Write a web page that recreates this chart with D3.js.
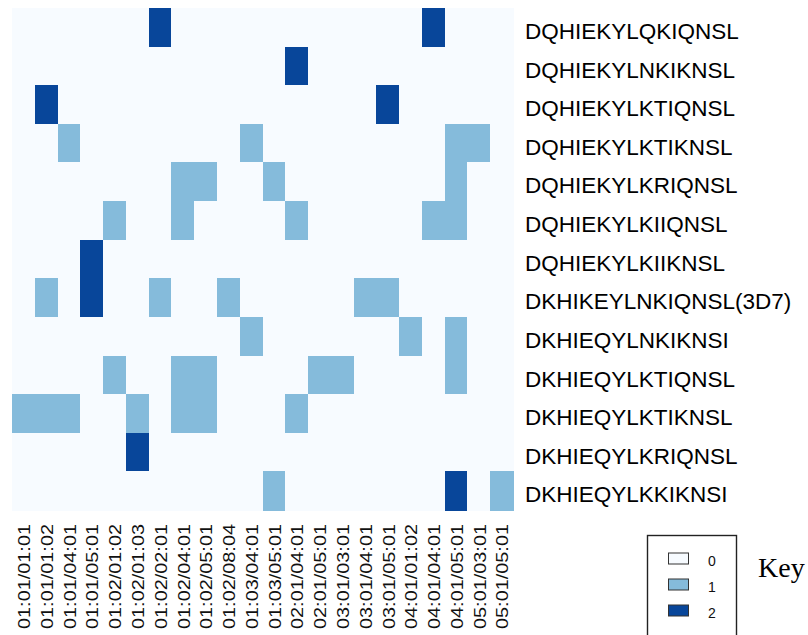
<!DOCTYPE html>
<html>
<head>
<meta charset="utf-8">
<script src="https://cdn.jsdelivr.net/npm/d3@7"></script>
<style>
  html, body { margin: 0; padding: 0; background: #ffffff; }
  svg { display: block; }
</style>
</head>
<body>
<svg id="chart" width="808" height="635"></svg>
<script>
// Epitope variants (rows) and allele combinations (columns)
const rowLabels = [
  "DQHIEKYLQKIQNSL",
  "DQHIEKYLNKIKNSL",
  "DQHIEKYLKTIQNSL",
  "DQHIEKYLKTIKNSL",
  "DQHIEKYLKRIQNSL",
  "DQHIEKYLKIIQNSL",
  "DQHIEKYLKIIKNSL",
  "DKHIKEYLNKIQNSL(3D7)",
  "DKHIEQYLNKIKNSI",
  "DKHIEQYLKTIQNSL",
  "DKHIEQYLKTIKNSL",
  "DKHIEQYLKRIQNSL",
  "DKHIEQYLKKIKNSI"
];

const colLabels = [
  "01:01/01:01", "01:01/01:02", "01:01/04:01", "01:01/05:01",
  "01:02/01:02", "01:02/01:03", "01:02/02:01", "01:02/04:01",
  "01:02/05:01", "01:02/08:04", "01:03/04:01", "01:03/05:01",
  "02:01/04:01", "02:01/05:01", "03:01/03:01", "03:01/04:01",
  "03:01/05:01", "04:01/01:02", "04:01/04:01", "04:01/05:01",
  "05:01/03:01", "05:01/05:01"
];

// Counts per variant (row) and allele combination (column)
const counts = [
  [0,0,0,0,0,0,2,0,0,0,0,0,0,0,0,0,0,0,2,0,0,0],
  [0,0,0,0,0,0,0,0,0,0,0,0,2,0,0,0,0,0,0,0,0,0],
  [0,2,0,0,0,0,0,0,0,0,0,0,0,0,0,0,2,0,0,0,0,0],
  [0,0,1,0,0,0,0,0,0,0,1,0,0,0,0,0,0,0,0,1,1,0],
  [0,0,0,0,0,0,0,1,1,0,0,1,0,0,0,0,0,0,0,1,0,0],
  [0,0,0,0,1,0,0,1,0,0,0,0,1,0,0,0,0,0,1,1,0,0],
  [0,0,0,2,0,0,0,0,0,0,0,0,0,0,0,0,0,0,0,0,0,0],
  [0,1,0,2,0,0,1,0,0,1,0,0,0,0,0,1,1,0,0,0,0,0],
  [0,0,0,0,0,0,0,0,0,0,1,0,0,0,0,0,0,1,0,1,0,0],
  [0,0,0,0,1,0,0,1,1,0,0,0,0,1,1,0,0,0,0,1,0,0],
  [1,1,1,0,0,1,0,1,1,0,0,0,1,0,0,0,0,0,0,0,0,0],
  [0,0,0,0,0,2,0,0,0,0,0,0,0,0,0,0,0,0,0,0,0,0],
  [0,0,0,0,0,0,0,0,0,0,0,1,0,0,0,0,0,0,0,2,0,1]
];

const keyLevels = [0, 1, 2];
const keyColors = ["#f7fbff", "#85bbdb", "#08469a"];

const svg = d3.select("#chart");

const plot = { left: 12, right: 513, top: 8, bottom: 510 };

const x = d3.scaleBand()
  .domain(colLabels)
  .range([plot.left, plot.right])
  .paddingInner(0).paddingOuter(0);

const y = d3.scaleBand()
  .domain(rowLabels)
  .range([plot.top, plot.bottom])
  .paddingInner(0).paddingOuter(0);

const color = d3.scaleOrdinal().domain(keyLevels).range(keyColors);

// flatten matrix into cells
const cells = [];
counts.forEach((row, i) => row.forEach((v, j) => {
  cells.push({ row: rowLabels[i], col: colLabels[j], value: v });
}));

// background tiles (value 0) first, then coloured tiles on top
svg.append("g")
  .attr("shape-rendering", "crispEdges")
  .selectAll("rect")
  .data(cells)
  .join("rect")
  .attr("x", d => x(d.col))
  .attr("y", d => y(d.row))
  .attr("width", x.bandwidth() + 0.5)
  .attr("height", y.bandwidth() + 0.5)
  .attr("fill", d => color(d.value));

// row labels on the right
const rowAxis = d3.axisRight(y).tickSize(0).tickPadding(12);
const gRow = svg.append("g")
  .attr("transform", `translate(${plot.right},0)`)
  .call(rowAxis);
gRow.select(".domain").remove();
gRow.selectAll("text")
  .attr("font-family", "Liberation Sans, Arial, sans-serif")
  .attr("font-size", 22.5)
  .attr("fill", "#000")
  .attr("dy", "0.52em");

// column labels, rotated, below the grid
const gCol = svg.append("g");
gCol.selectAll("text")
  .data(colLabels)
  .join("text")
  .attr("transform", d => `translate(${x(d) + x.bandwidth() / 2 + 1},524) rotate(-90)`)
  .attr("text-anchor", "end")
  .attr("dy", "0.36em")
  .attr("font-family", "Liberation Sans, Arial, sans-serif")
  .attr("font-size", 16)
  .attr("fill", "#111")
  .attr("textLength", 105)
  .attr("lengthAdjust", "spacingAndGlyphs")
  .text(d => d);

// key
const key = svg.append("g");
key.append("rect")
  .attr("x", 647.5).attr("y", 535.5)
  .attr("width", 89).attr("height", 110)
  .attr("fill", "none")
  .attr("stroke", "#222")
  .attr("stroke-width", 1.4);

const keyY = d3.scalePoint().domain(keyLevels).range([558.5, 610.5]);

key.selectAll("rect.sw")
  .data(keyLevels)
  .join("rect")
  .attr("class", "sw")
  .attr("x", 668.5)
  .attr("y", d => keyY(d) - 5.5)
  .attr("width", 20)
  .attr("height", 11)
  .attr("fill", d => color(d))
  .attr("stroke", "#333")
  .attr("stroke-width", 1);

key.selectAll("text.lab")
  .data(keyLevels)
  .join("text")
  .attr("class", "lab")
  .attr("x", 708)
  .attr("y", d => keyY(d) + 2.5)
  .attr("dy", "0.36em")
  .attr("font-family", "Liberation Sans, Arial, sans-serif")
  .attr("font-size", 14)
  .attr("fill", "#111")
  .text(d => d);

svg.append("text")
  .attr("x", 758)
  .attr("y", 577)
  .attr("font-family", "Liberation Serif, Times New Roman, serif")
  .attr("font-size", 28)
  .attr("fill", "#000")
  .text("Key");
</script>
</body>
</html>
